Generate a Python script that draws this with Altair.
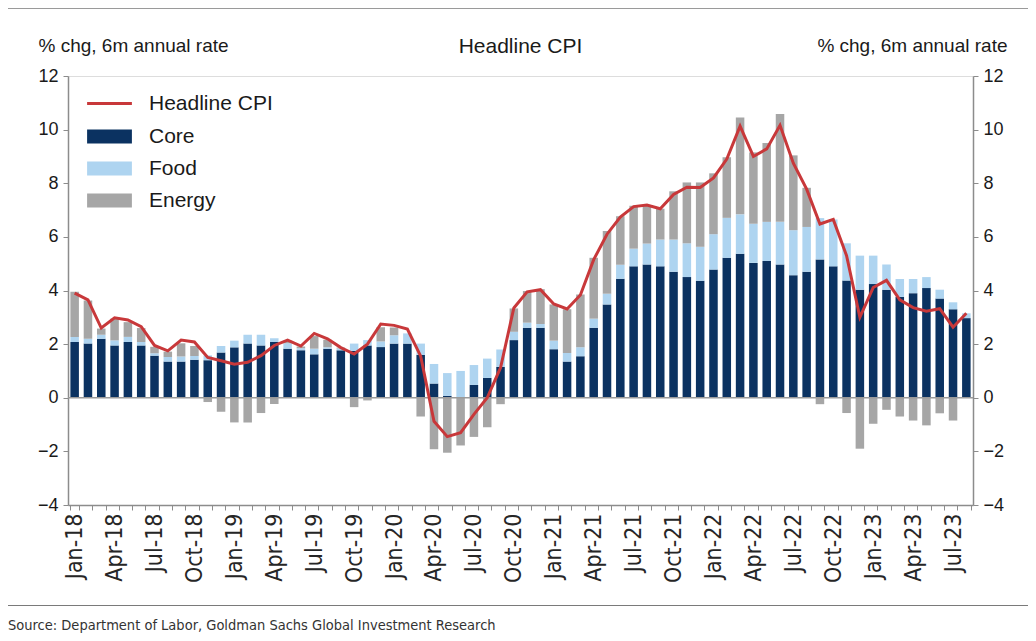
import altair as alt
import pandas as pd

months = list(pd.date_range("2018-01-01", periods=68, freq="MS").strftime("%b-%y"))

core = [2.08, 2.02, 2.20, 1.95, 2.08, 1.95, 1.57, 1.35, 1.35, 1.42,
        1.40, 1.69, 1.88, 2.02, 1.95, 2.08, 1.83, 1.77, 1.62, 1.83,
        1.77, 1.75, 1.95, 1.89, 2.02, 2.02, 1.60, 0.53, 0.07, 0.02,
        0.48, 0.74, 1.15, 2.15, 2.61, 2.61, 1.81, 1.35, 1.55, 2.61,
        3.48, 4.44, 4.90, 4.97, 4.90, 4.70, 4.50, 4.36, 4.78, 5.22,
        5.37, 5.03, 5.10, 4.97, 4.57, 4.70, 5.16, 4.90, 4.37, 4.03,
        4.24, 4.03, 3.76, 3.90, 4.09, 3.70, 3.30, 2.97]
food = [0.19, 0.18, 0.15, 0.19, 0.19, 0.13, 0.09, 0.17, 0.19, 0.14,
        0.18, 0.24, 0.25, 0.33, 0.40, 0.14, 0.20, 0.08, 0.21, 0.05,
        0.07, 0.27, 0.20, 0.21, 0.31, 0.38, 0.42, 0.73, 0.85, 0.98,
        0.74, 0.72, 0.65, 0.31, 0.19, 0.14, 0.32, 0.32, 0.33, 0.34,
        0.40, 0.52, 0.66, 0.78, 1.00, 1.20, 1.26, 1.27, 1.32, 1.49,
        1.47, 1.46, 1.46, 1.59, 1.68, 1.67, 1.54, 1.75, 1.39, 1.27,
        1.06, 0.94, 0.67, 0.53, 0.41, 0.33, 0.26, 0.18]
energy = [1.68, 1.43, 0.23, 0.81, 0.55, 0.52, 0.24, 0.20, 0.49, 0.37,
          -0.16, -0.52, -0.92, -0.92, -0.57, -0.23, 0.10, 0.06, 0.47, 0.28,
          0.03, -0.35, -0.10, 0.53, 0.29, 0.00, -0.70, -1.92, -2.05, -1.78,
          -1.46, -1.10, -0.24, 0.87, 1.18, 1.30, 1.35, 1.63, 1.97, 2.27,
          2.34, 1.81, 1.60, 1.44, 1.15, 1.80, 2.27, 2.40, 2.27, 2.26,
          3.61, 2.66, 2.94, 4.02, 2.79, 1.46, -0.24, 0.00, -0.57, -1.90,
          -0.97, -0.45, -0.70, -0.85, -1.03, -0.58, -0.85, 0.00]
headline = [3.90, 3.65, 2.60, 2.98, 2.90, 2.65, 1.95, 1.75, 2.15, 2.08,
            1.50, 1.38, 1.25, 1.32, 1.57, 1.95, 2.15, 1.93, 2.40, 2.20,
            1.87, 1.63, 2.00, 2.75, 2.70, 2.56, 1.55, -0.88, -1.45, -1.30,
            -0.62, 0.00, 1.12, 3.35, 3.95, 4.03, 3.50, 3.31, 3.83, 5.15,
            6.10, 6.74, 7.13, 7.19, 7.05, 7.58, 7.85, 7.84, 8.20, 8.90,
            10.13, 9.00, 9.28, 10.16, 8.75, 7.78, 6.48, 6.65, 5.30, 3.00,
            4.11, 4.38, 3.65, 3.36, 3.23, 3.32, 2.63, 3.15]

components = ["Core", "Food", "Energy"]
comp_colors = ["#0b3261", "#aed4f0", "#a6a6a6"]
line_color = "#c8383a"
y_ticks = [-4, -2, 0, 2, 4, 6, 8, 10, 12]
axis_title = "% chg, 6m annual rate"
chart_title = "Headline CPI"
source_text = "Source: Department of Labor, Goldman Sachs Global Investment Research"

rows = []
for m, c, f, e in zip(months, core, food, energy):
    for k, (name, v) in enumerate(zip(components, [c, f, e])):
        rows.append({"month": m, "component": name, "value": v, "ord": k})
bar_df = pd.DataFrame(rows)
line_df = pd.DataFrame({"month": months, "value": headline, "series": "Headline CPI"})

FONT = "Liberation Sans"
NARROW = "Liberation Sans Narrow, DejaVu Sans Condensed, Liberation Sans"
TXT = "#1a1a1a"
AX = "#8c8c8c"

x_axis = alt.Axis(
    title=None, labelAngle=-90, labelFont=NARROW, labelFontSize=23, labelColor="#262626",
    labelExpr="indexof(['Jan','Apr','Jul','Oct'], slice(datum.label,0,3)) >= 0 ? datum.label : ''",
    tickBand="extent", tickSize=5, tickColor=AX, domainColor=AX, domainWidth=1.5,
    labelPadding=3, labelOverlap=False,
)
x_enc = alt.X("month:N", sort=months,
              scale=alt.Scale(paddingInner=0.36, paddingOuter=0.18),
              axis=x_axis)
y_scale = alt.Scale(domain=[-4, 12], nice=False, zero=False)

def y_axis(orient, tx, align):
    return alt.Axis(
        orient=orient, values=y_ticks, grid=False, tickSize=5, tickColor=AX,
        domainColor=AX, domainWidth=1.5, labelFont=FONT, labelFontSize=18,
        labelColor=TXT, labelPadding=5,
        title=axis_title, titleAngle=0, titleFont=FONT, titleFontSize=19,
        titleFontWeight="normal", titleColor=TXT, titleX=tx, titleY=-21,
        titleAlign=align, titleBaseline="bottom",
    )

bars = alt.Chart(bar_df).mark_bar().encode(
    x=x_enc,
    y=alt.Y("value:Q", scale=y_scale, axis=y_axis("left", -30, "left")),
    color=alt.Color("component:N",
                    scale=alt.Scale(domain=components, range=comp_colors),
                    legend=alt.Legend(
                        orient="none", legendX=31, legendY=50, title=None,
                        symbolType="M-3.2,-1H3.2V1H-3.2Z", symbolSize=196,
                        symbolStrokeWidth=0, labelFont=FONT, labelFontSize=21,
                        labelColor=TXT, labelOffset=29, rowPadding=10, padding=0)),
    order=alt.Order("ord:Q", sort="ascending"),
)

zero = alt.Chart(pd.DataFrame({"z": [0]})).mark_rule(color="#9a9a9a", strokeWidth=1.5).encode(
    y=alt.Y("z:Q", scale=y_scale, axis=None)
)

line = alt.Chart(line_df).mark_line(strokeWidth=3).encode(
    x=x_enc,
    y=alt.Y("value:Q", scale=y_scale, axis=y_axis("right", 34, "right")),
    stroke=alt.Stroke("series:N",
                      scale=alt.Scale(domain=["Headline CPI"], range=[line_color]),
                      legend=alt.Legend(
                          orient="none", legendX=31, legendY=17, title=None,
                          symbolType="M-3.2,0H3.2", symbolSize=196,
                          symbolStrokeWidth=3, labelFont=FONT, labelFontSize=21,
                          labelColor=TXT, labelOffset=29, padding=0)),
)

deco = pd.DataFrame({"t": [source_text], "title": [chart_title]})
title_mark = alt.Chart(deco).mark_text(
    align="center", baseline="middle", font=FONT, fontSize=21, color=TXT
).encode(text="title:N", x=alt.value(452.5), y=alt.value(-29))
top_rule = alt.Chart(deco).mark_rule(color="#9a9a9a", strokeWidth=1).encode(
    x=alt.value(-60), x2=alt.value(960), y=alt.value(-67.5))
bottom_rule = alt.Chart(deco).mark_rule(color="#7a7a7a", strokeWidth=1).encode(
    x=alt.value(-65), x2=alt.value(962), y=alt.value(529.5))
source = alt.Chart(deco).mark_text(
    align="left", baseline="middle", font=NARROW, fontSize=14.5, color="#333333"
).encode(text="t:N", x=alt.value(-60), y=alt.value(550))

chart = alt.layer(bars, zero, line, title_mark, top_rule, bottom_rule, source).resolve_axis(
    y="independent"
).properties(
    width=905, height=429,
    autosize=alt.AutoSizeParams(type="none"),
    padding={"left": 60, "top": 68, "right": 55, "bottom": 128},
).configure_view(stroke=None).configure(background="white")

chart.save("out.html", embed_options={"renderer": "svg", "actions": False})
